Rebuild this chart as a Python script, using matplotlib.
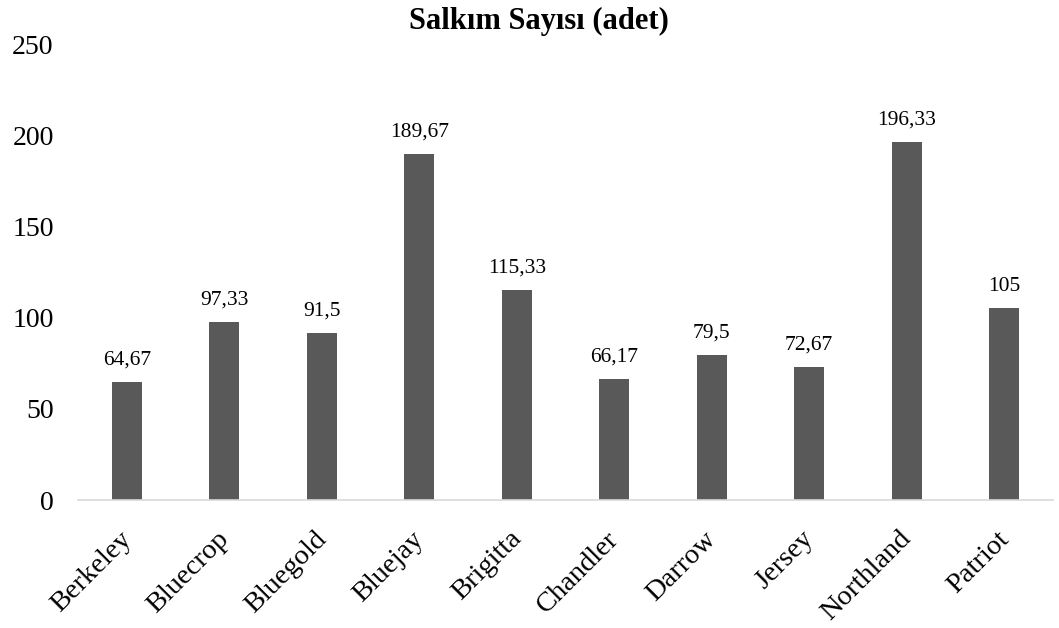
import matplotlib
matplotlib.use("Agg")
import matplotlib.pyplot as plt
import matplotlib.transforms as mtransforms

categories = ["Berkeley", "Bluecrop", "Bluegold", "Bluejay", "Brigitta",
              "Chandler", "Darrow", "Jersey", "Northland", "Patriot"]
values = [64.67, 97.33, 91.5, 189.67, 115.33, 66.17, 79.5, 72.67, 196.33, 105]
labels = ["64,67", "97,33", "91,5", "189,67", "115,33", "66,17", "79,5", "72,67", "196,33", "105"]
yticks = [0, 50, 100, 150, 200, 250]
title = "Salkım Sayısı (adet)"

plt.rcParams['font.family'] = ['Liberation Serif', 'DejaVu Serif']

fig = plt.figure(figsize=(10.59, 6.28), dpi=100)
ax = fig.add_axes([78/1059, 128/628, 975/1059, 456/628])

x = list(range(len(categories)))
ax.bar(x, values, width=0.31, color="#595959")
ax.set_xlim(-0.5, len(categories) - 0.5)
ax.set_ylim(0, 250)
ax.set_yticks(yticks)
ax.set_yticklabels([str(t) for t in yticks], fontsize=20)
ax.set_xticks(x)
ax.set_xticklabels(categories, rotation=45, ha="right", va="top",
                   rotation_mode="anchor", fontsize=20.5)
ax.tick_params(axis="both", length=0)
ax.tick_params(axis="y", pad=17.5)
ax.tick_params(axis="x", pad=19)

offset = mtransforms.ScaledTranslation(-8/100, 0, fig.dpi_scale_trans)
for lbl in ax.get_xticklabels():
    lbl.set_transform(lbl.get_transform() + offset)

for s in ["top", "right", "left"]:
    ax.spines[s].set_visible(False)
ax.spines["bottom"].set_color("#d9d9d9")
ax.spines["bottom"].set_linewidth(1.2)

for xi, v, lab in zip(x, values, labels):
    ax.annotate(lab, (xi, v), xytext=(0, 9), textcoords="offset points",
                ha="center", va="bottom", fontsize=15.5)

fig.text(539/1059, 1 - 21/628, title, ha="center", va="center", fontsize=22, fontweight="bold")

fig.savefig("out.png", dpi=100)
